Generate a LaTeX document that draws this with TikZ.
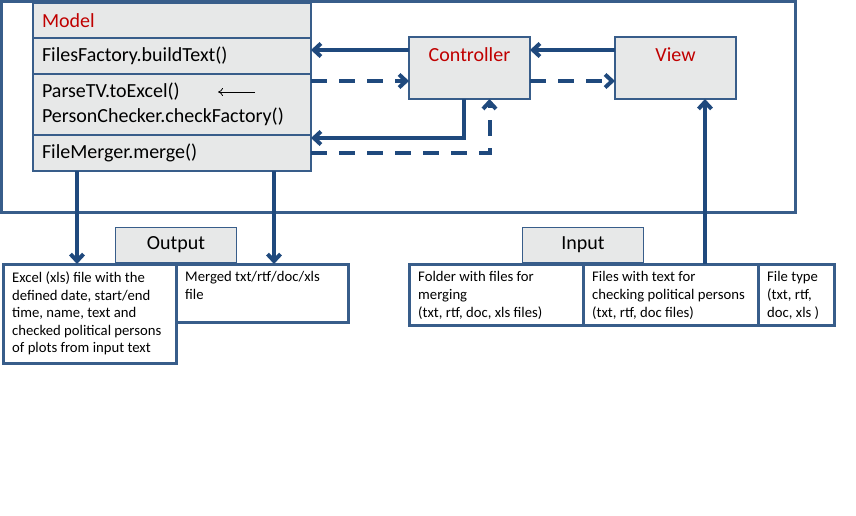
\documentclass[tikz,border=0pt]{standalone}
\usepackage{fontspec}
\setmainfont{Carlito}
\usetikzlibrary{positioning, arrows.meta}

\definecolor{frameblue}{HTML}{385D8A}
\definecolor{linkblue}{HTML}{1F497D}
\definecolor{boxgray}{HTML}{E7E8E8}
\definecolor{titlered}{HTML}{C00000}

\begin{document}
\begin{tikzpicture}[x=1pt, y=-1pt,
    font=\fontsize{20}{24.5}\selectfont,
    row/.style={draw=frameblue, line width=1.2pt, fill=boxgray, outer sep=0pt, text width=260pt, inner xsep=9pt, align=left},
    part/.style={draw=frameblue, line width=1.2pt, fill=boxgray, outer sep=0pt, minimum width=121pt, minimum height=62pt},
    tab/.style={draw=frameblue, line width=1.2pt, fill=boxgray, outer sep=0pt, minimum width=121pt, minimum height=35pt},
    filebox/.style={draw=frameblue, line width=3pt, fill=white, outer sep=0pt, anchor=north west, minimum height=61pt},
    note/.style={anchor=north west, inner sep=0pt, xshift=9pt, yshift=-7.5pt, align=left, font=\fontsize{14.7}{17.6}\selectfont},
    link/.style={draw=linkblue, line width=4pt, -{Straight Barb[length=7pt, width=13pt]}},
    dashlink/.style={link, dash pattern=on 16pt off 12pt},
    hint/.style={-{To[length=5pt, width=8pt]}, line width=0.8pt}
]
\useasboundingbox (0,0) rectangle (856,515);

\draw[frameblue, line width=3pt] (1.5,1.5) rectangle (795,212);

\node[row, anchor=north west, minimum height=35pt, text=titlered] (model) at (33,3) {Model};
\node[row, below=0pt of model, minimum height=36pt] (build) {FilesFactory.buildText()};
\node[row, below=0pt of build, minimum height=61pt] (parse) {ParseTV.toExcel()\\PersonChecker.checkFactory()};
\node[row, below=0pt of parse, minimum height=36pt] (merge) {FileMerger.merge()};

\node[part, anchor=north west, label={[text=titlered, anchor=center, yshift=-18pt]north:Controller}] (ctrl) at (409,37) {};
\node[part, anchor=north west, label={[text=titlered, anchor=center, yshift=-18pt]north:View}] (view) at (615,37) {};

\node[filebox, minimum width=173pt, minimum height=99pt,
    label={[note]north west:Excel (xls) file with the\\defined date, start/end\\time, name, text and\\checked political persons\\of plots from input text}] (excel) at (3,264) {};
\node[filebox, minimum width=172pt, minimum height=58pt,
    label={[note]north west:Merged txt/rtf/doc/xls\\file}] (merged) at (excel.north east) {};
\node[filebox, minimum width=174pt,
    label={[note]north west:Folder with files for\\merging\\(txt, rtf, doc, xls files)}] (folder) at (409,264) {};
\node[filebox, minimum width=175pt,
    label={[note]north west:Files with text for\\checking political persons\\(txt, rtf, doc files)}] (files) at (folder.north east) {};
\node[filebox, minimum width=76pt,
    label={[note]north west:File type\\(txt, rtf,\\doc, xls )}] (ftype) at (files.north east) {};

\node[tab, above=1.5pt of excel.north east] (output) {Output};
\node[tab, above=1.5pt of folder.north east] (input) {Input};

\coordinate (ctrl-w1) at ([yshift=-13pt]ctrl.north west);
\coordinate (ctrl-w2) at ([yshift=18pt]ctrl.south west);
\coordinate (ctrl-e1) at ([yshift=-13pt]ctrl.north east);
\coordinate (ctrl-e2) at ([yshift=18pt]ctrl.south east);
\coordinate (view-w1) at ([yshift=-13pt]view.north west);
\coordinate (view-w2) at ([yshift=18pt]view.south west);
\coordinate (back) at ([yshift=-3pt]merge.north east);
\coordinate (down1) at ([xshift=44pt]merge.south west);
\coordinate (down2) at ([xshift=-37pt]merge.south east);
\coordinate (up1) at ([xshift=-31pt]view.south east);

\draw[link] (ctrl-w1) -- (ctrl-w1 -| build.east);
\draw[dashlink] (ctrl-w2 -| parse.east) -- (ctrl-w2);
\draw[link] (view-w1) -- (ctrl-e1);
\draw[dashlink] (ctrl-e2) -- (view-w2);
\draw[link] ([xshift=-6pt]ctrl.south) |- (back);
\draw[dashlink] (merge.east) -| ([xshift=20pt]ctrl.south);
\draw[link] (down1) -- (down1 |- excel.north);
\draw[link] (down2) -- (down2 |- merged.north);
\draw[link] (up1 |- files.north) -- (up1);

\coordinate (hint-a) at (255,92);
\coordinate (hint-b) at (218,92);
\draw[hint] (hint-a) -- (hint-b);

\end{tikzpicture}
\end{document}
